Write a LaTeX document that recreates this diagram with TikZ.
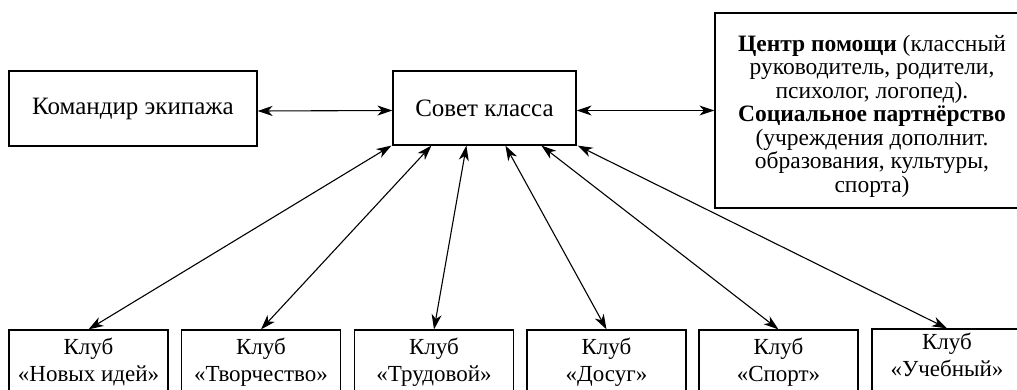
\documentclass[tikz,border=0pt]{standalone}
\usepackage{fontspec}
\setmainfont{Liberation Serif}
\usetikzlibrary{arrows.meta,calc}
\begin{document}
\begin{tikzpicture}[x=1pt,y=-1pt,
  frame/.style={draw=black,line width=1.2pt,inner sep=0pt},
  box/.style={frame,align=center,font=\fontsize{25}{29}\selectfont},
  clubframe/.style={frame,minimum width=159pt,minimum height=66pt},
  clubtext/.style={inner sep=0pt,align=center,font=\fontsize{23}{27}\selectfont},
  link/.style={line width=1.1pt,{Stealth[length=15pt,width=10pt,inset=4.5pt]}-{Stealth[length=15pt,width=10pt,inset=4.5pt]}}]
\useasboundingbox (0,0) rectangle (1017,390);
\clip (0,0) rectangle (1017,390);
\node[box,minimum width=248pt,minimum height=75pt] (cmd) at (133,108.5) {Командир экипажа};
\node[box,minimum width=183pt,minimum height=74pt] (sov) at (484.5,108) {Совет класса};
\node[frame,minimum width=314pt,minimum height=195pt] (cen) at (872,110.5) {};
\node[inner sep=0pt,align=center,font=\fontsize{23.5}{23.5}\selectfont] (centext) at (872,116)
  {\textbf{Центр помощи} (классный\\руководитель, родители,\\психолог, логопед).\\\textbf{Социальное партнёрство}\\(учреждения дополнит.\\образования, культуры,\\спорта)};
\node[clubframe] (c1) at (88.5,363) {};
\node[clubframe] (c2) at (261,363) {};
\node[clubframe] (c3) at (434,363) {};
\node[clubframe] (c4) at (606.5,363) {};
\node[clubframe] (c5) at (778.5,363) {};
\node[clubframe,minimum width=150pt] (c6) at (947,362) {};
\node[clubtext] (t1) at (88.5,362) {Клуб\\«Новых идей»};
\node[clubtext] (t2) at (261,362) {Клуб\\«Творчество»};
\node[clubtext] (t3) at (434,362) {Клуб\\«Трудовой»};
\node[clubtext] (t4) at (606.5,362) {Клуб\\«Досуг»};
\node[clubtext] (t5) at (778.5,362) {Клуб\\«Спорт»};
\node[clubtext] (t6) at (947,355) {Клуб\\«Учебный»};
\draw[link] ([yshift=-2.5pt]cmd.east) -- ([yshift=-2.5pt]sov.west);
\draw[link] ([yshift=-2.5pt]sov.east) -- ([yshift=-2.5pt]sov.east -| cen.west);
\draw[link] ([xshift=-1pt]sov.south west) -- (c1.north);
\draw[link] ([xshift=39pt]sov.south west) -- (c2.north);
\draw[link] ([xshift=74pt]sov.south west) -- (c3.north);
\draw[link] ([xshift=113pt]sov.south west) -- (c4.north);
\draw[link] ([xshift=149pt]sov.south west) -- (c5.north);
\draw[link] ([xshift=1pt]sov.south east) -- (c6.north);
\end{tikzpicture}
\end{document}
